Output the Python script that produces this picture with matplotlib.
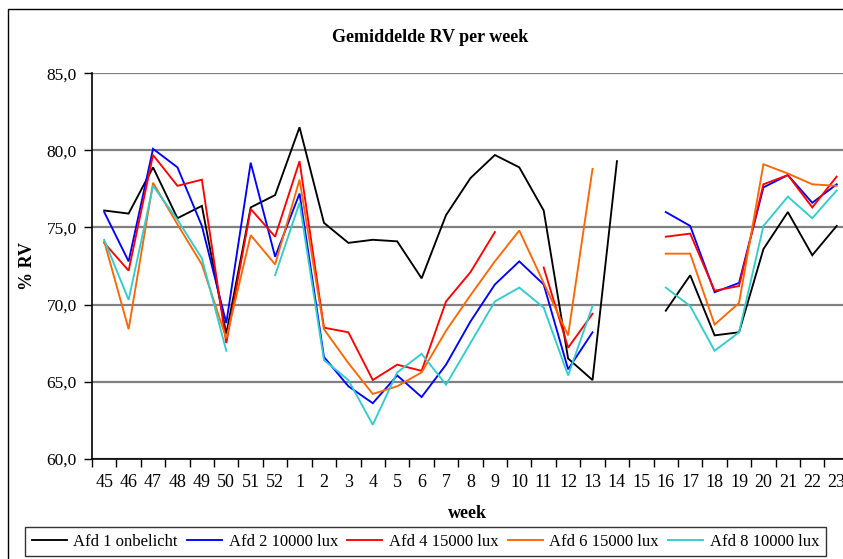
import numpy as np
import matplotlib
matplotlib.use("Agg")
import matplotlib.pyplot as plt
from matplotlib.patches import Rectangle
from matplotlib.ticker import FixedLocator, FuncFormatter

nan = np.nan

weeks = ["45", "46", "47", "48", "49", "50", "51", "52", "1", "2", "3", "4", "5",
         "6", "7", "8", "9", "10", "11", "12", "13", "14", "15", "16", "17", "18",
         "19", "20", "21", "22", "23"]

afd1 = [76.1, 75.9, 78.9, 75.6, 76.4, 68.1, 76.3, 77.1, 81.5, 75.3, 74.0, 74.2, 74.1,
        71.7, 75.8, 78.2, 79.7, 78.9, 76.1, 66.5, 65.1, 79.3, nan, 69.6, 71.9, 68.0,
        68.2, 73.6, 76.0, 73.2, 75.1]
afd2 = [76.0, 72.8, 80.1, 78.9, 75.1, 68.8, 79.2, 73.1, 77.2, 66.6, 64.7, 63.6, 65.4,
        64.0, 66.1, 68.9, 71.3, 72.8, 71.3, 65.8, 68.2, nan, nan, 76.0, 75.1, 70.8,
        71.4, 77.6, 78.4, 76.6, 77.8]
afd4 = [74.0, 72.2, 79.7, 77.7, 78.1, 67.5, 76.2, 74.4, 79.3, 68.5, 68.2, 65.1, 66.1,
        65.7, 70.2, 72.1, 74.7, nan, 72.4, 67.2, 69.4, nan, nan, 74.4, 74.6, 70.9,
        71.2, 77.8, 78.4, 76.3, 78.3]
afd6 = [74.1, 68.4, 77.9, 75.2, 72.6, 67.8, 74.5, 72.6, 78.1, 68.4, 66.2, 64.2, 64.7,
        65.6, 68.3, 70.6, 72.8, 74.8, 71.4, 68.0, 78.8, nan, nan, 73.3, 73.3, 68.7,
        70.1, 79.1, 78.5, 77.8, 77.7]
afd8 = [74.2, 70.3, 77.7, 75.5, 73.0, 67.0, nan, 71.9, 76.6, 66.4, 65.1, 62.2, 65.6,
        66.8, 64.8, 67.5, 70.2, 71.1, 69.8, 65.4, 69.9, nan, nan, 71.1, 69.9, 67.0,
        68.2, 75.1, 77.0, 75.6, 77.4]

series = [
    ("Afd 1 onbelicht", afd1, "#000000"),
    ("Afd 2 10000 lux", afd2, "#0000FF"),
    ("Afd 4 15000 lux", afd4, "#FF0000"),
    ("Afd 6 15000 lux", afd6, "#FF6600"),
    ("Afd 8 10000 lux", afd8, "#33CCCC"),
]

plt.rcParams["font.family"] = ["Liberation Serif", "DejaVu Serif"]

W, H = 843, 559
fig = plt.figure(figsize=(W / 100, H / 100), dpi=100)

# chart-area border
fig.patches.append(Rectangle((8 / W, -0.1), 1.2, 1.1 - 9 / H,
                             transform=fig.transFigure, fill=False,
                             edgecolor="black", linewidth=1.0, zorder=0))

ax = fig.add_axes([92 / W, 1 - 458.7 / H, 756.9 / W, 385.4 / H])
x = np.arange(len(weeks))

for name, vals, col in series:
    ax.plot(x, vals, color=col, linewidth=1.35, label=name, solid_joinstyle="miter")

ax.set_xlim(-0.5, len(weeks) - 0.5)
ax.set_ylim(60, 85)
ax.set_yticks(np.arange(60, 85.1, 5))
ax.yaxis.set_major_formatter(FuncFormatter(lambda v, p: f"{v:.1f}".replace(".", ",")))
ax.grid(axis="y", color="#808080", linewidth=1.6)
ax.set_axisbelow(True)

ax.set_xticks(x)
ax.set_xticklabels(weeks)
ax.xaxis.set_minor_locator(FixedLocator(np.arange(-0.5, len(weeks), 1.0)))
ax.tick_params(axis="x", which="major", length=0, pad=11, labelsize=13)
ax.tick_params(axis="x", which="minor", length=6, width=1.0, direction="out")
ax.tick_params(axis="y", length=6, width=1.0, direction="out", pad=5, labelsize=12.5)

for s in ("top", "right"):
    ax.spines[s].set_visible(False)
ax.spines["left"].set_linewidth(1.2)
ax.spines["bottom"].set_linewidth(1.2)

fig.text(430 / W, 1 - 37 / H, "Gemiddelde RV per week", ha="center", va="center",
         fontsize=13, fontweight="bold")
fig.text(27 / W, 1 - 266 / H, "% RV", ha="center", va="center", rotation=90,
         fontsize=13, fontweight="bold")
fig.text(467 / W, 1 - 513 / H, "week", ha="center", va="center",
         fontsize=13, fontweight="bold")

leg = fig.legend(loc="center", bbox_to_anchor=(425.5 / W, 1 - 541.5 / H), ncol=5,
                 fontsize=12, frameon=True, fancybox=False, handlelength=2.1,
                 handletextpad=0.4, columnspacing=0.55, borderpad=0.4)
leg.get_frame().set_edgecolor("black")
leg.get_frame().set_linewidth(1.0)

fig.savefig("out.png", dpi=100)
